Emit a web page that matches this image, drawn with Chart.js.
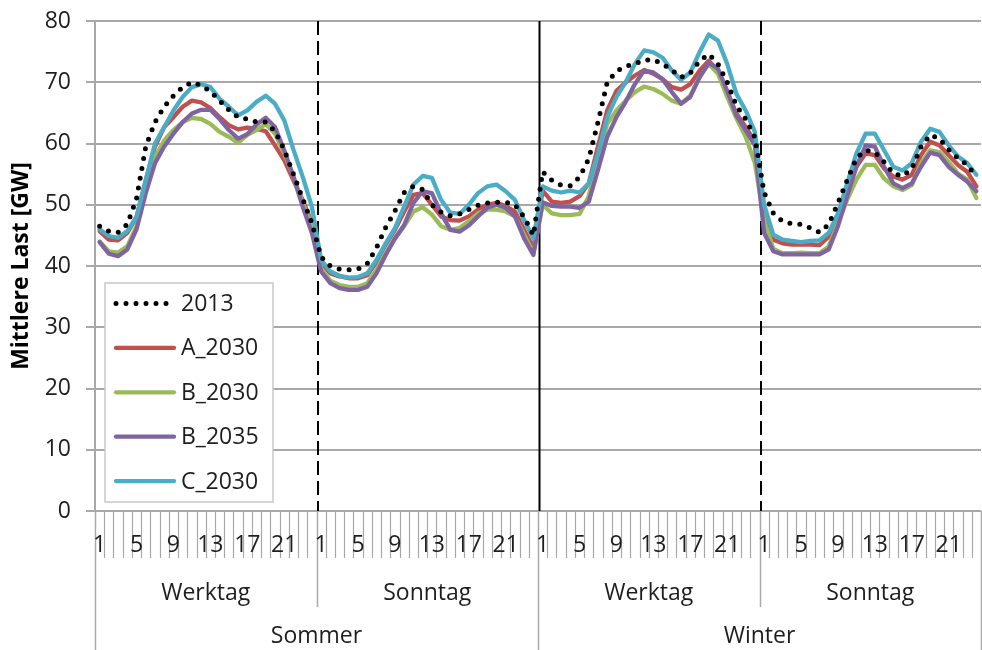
<!DOCTYPE html>
<html lang="de">
<head>
<meta charset="utf-8">
<title>Mittlere Last</title>
<script src="https://cdn.jsdelivr.net/npm/chart.js@4.4.1/dist/chart.umd.min.js"></script>
<style>
  html, body { margin: 0; padding: 0; background: #fff; }
  #wrap { width: 982px; height: 650px; }
</style>
</head>
<body>
<div id="wrap"><canvas id="lastChart" width="982" height="650"></canvas></div>
<script>
// Kategorien
const hours = [1, 2, 3, 4, 5, 6, 7, 8, 9, 10, 11, 12, 13, 14, 15, 16, 17, 18, 19, 20, 21, 22, 23, 24];
const shownHours = [1, 5, 9, 13, 17, 21];
const dayTypes = ['Werktag', 'Sonntag'];
const seasons = ['Sommer', 'Winter'];
const yTicks = [0, 10, 20, 30, 40, 50, 60, 70, 80];

// Werte [GW]: Sommer Werktag | Sommer Sonntag | Winter Werktag | Winter Sonntag
const s2013 = [
  46.5, 45.7, 45.5, 46.8, 51, 59.5, 63.5, 66, 67.8, 69.2, 70, 69.5, 68.5, 67, 65.5, 64.3, 64, 63.5, 63.5, 62, 59, 55, 51, 47,
  41.5, 40, 39.5, 39.4, 39.5, 40.4, 43, 46.3, 49, 52, 53, 52.5, 50, 48.8, 48.2, 48.5, 49.2, 49.9, 50.3, 50.4, 50.4, 50, 48, 45,
  55.4, 54, 53.2, 53.1, 54.5, 57.5, 63.5, 70, 71.8, 72.6, 73, 73.6, 73.7, 73, 72, 70.8, 71.5, 73.5, 74.6, 73, 70, 66.2, 64, 61,
  52, 48.6, 47.3, 46.9, 46.8, 46.2, 45.5, 46.8, 50.3, 54, 57.6, 58.9, 58.6, 57, 55.1, 54.7, 55.9, 59.5, 61.4, 60.8, 59, 57.6, 56.5, 54.6
];
const a2030 = [
  45.7, 44.3, 44.2, 45.4, 48, 54, 59.5, 62.7, 64.3, 66, 67, 66.7, 65.8, 64.3, 63, 62.3, 62.6, 62.4, 62, 59.7, 57.3, 54, 50.8, 47,
  40.5, 38.8, 38.3, 38, 38, 38.5, 40.7, 43.5, 45.9, 48.9, 51.6, 51.9, 50, 48.1, 47.5, 47.4, 48.1, 49.2, 50, 50.3, 49.8, 48.9, 45.9, 42.9,
  52.3, 50.5, 50.3, 50.5, 51.4, 53.5, 59.5, 65.4, 68.6, 70, 71.1, 72, 71.4, 70.5, 69.2, 68.8, 69.7, 71.9, 73.5, 71.9, 68.4, 64.9, 62.7, 60.3,
  49, 44.3, 43.7, 43.5, 43.5, 43.5, 43.4, 44.8, 48.4, 52.7, 56.2, 58.4, 58.1, 55.9, 54.6, 54.1, 54.9, 58.1, 60.3, 59.7, 58.1, 56.5, 55.4, 53
];
const b2030 = [
  44, 42.4, 42.2, 43.2, 46.5, 52.4, 57.8, 60.5, 62.2, 63.5, 64.2, 64, 63.2, 61.9, 61.1, 60.1, 61.4, 62.2, 63.2, 61.6, 58.4, 54.6, 50.3, 46.5,
  39.6, 37.6, 36.9, 36.6, 36.6, 37.2, 39.4, 42.1, 44.5, 46.5, 48.9, 49.6, 48.4, 46.5, 45.9, 46.2, 47.3, 48.6, 49.2, 49.2, 48.9, 48.1, 45.1, 42.1,
  50, 48.6, 48.3, 48.3, 48.5, 51.4, 57.8, 63.2, 65.4, 67, 68.4, 69.3, 68.9, 68.1, 67, 66.5, 67.8, 70.8, 73, 71.4, 67.6, 64.1, 61.1, 56.8,
  47.5, 42.8, 42.1, 42.1, 42.2, 42.1, 42.1, 43.2, 47, 50.8, 54.1, 56.5, 56.5, 54.3, 53, 52.4, 53.2, 56.8, 58.9, 58.6, 57, 55.1, 54.1, 51.1
];
const b2035 = [
  43.9, 42, 41.6, 42.7, 46, 51.9, 56.8, 59.5, 61.6, 63.5, 64.9, 65.5, 65.5, 64, 62.2, 60.8, 61.5, 63.1, 64.2, 62.7, 58.9, 54.6, 49.7, 45.4,
  39.1, 37.2, 36.4, 36.1, 36.1, 36.6, 38.8, 41.8, 44.5, 46.7, 50.3, 52.2, 51.9, 48.6, 45.9, 45.6, 46.6, 48.1, 49.5, 50, 49.5, 48.1, 44.5, 41.8,
  50.4, 49.8, 49.7, 49.7, 49.5, 50.5, 55.7, 61.1, 64.3, 66.8, 69.7, 71.9, 71.6, 70.5, 68.4, 66.5, 67.6, 70.8, 73.2, 72.2, 68.6, 64.6, 62.2, 59.7,
  45.4, 42.4, 41.9, 41.9, 41.9, 41.9, 41.9, 42.7, 46.5, 51.4, 56.2, 59.7, 59.5, 56.2, 53.5, 52.7, 53.5, 56.2, 58.5, 58.1, 56.2, 54.9, 53.8, 52.2
];
const c2030 = [
  46, 44.9, 44.6, 45.7, 48, 54, 60, 62.7, 65.4, 67.6, 69.2, 69.7, 69.2, 67.3, 66, 64.6, 65.4, 66.8, 67.8, 66.5, 63.8, 59, 54.6, 49.7,
  41, 39.1, 38.4, 38.1, 38.2, 38.8, 41, 43.7, 46.2, 49.7, 53.3, 54.7, 54.4, 50.8, 48.7, 48.5, 50, 51.9, 53, 53.3, 52.2, 50.8, 47.5, 44.5,
  53, 52.3, 52, 52.3, 52, 53.5, 58.4, 64.3, 67.6, 70, 73, 75.2, 74.9, 74, 71.9, 70.4, 71.6, 74.9, 77.8, 76.8, 73, 68.1, 65.4, 61.9,
  50, 45.1, 44.3, 44.1, 43.9, 44.1, 44.2, 45.4, 48.6, 53.5, 58.4, 61.6, 61.6, 58.9, 56.2, 55.6, 56.8, 60.3, 62.4, 61.9, 59.7, 57.9, 56.8, 54.9
];

const FONT = '"Open Sans", "Noto Sans", sans-serif';
const TEXT = '#1e1e1e';
const GRID = '#a8a8a8';

const labels = seasons.flatMap(s => dayTypes.flatMap(d => hours.map(h => s + ' ' + d + ' ' + h)));

// x-Achse mit drei Ebenen, Trennlinien und Legende selbst zeichnen
const levelsPlugin = {
  id: 'levels',
  beforeDatasetsDraw(chart) {
    const { ctx, chartArea: a, scales: { x } } = chart;
    const w = x.getPixelForValue(1) - x.getPixelForValue(0);
    ctx.save();
    ctx.strokeStyle = '#000';
    ctx.lineWidth = 2;
    [24, 48, 72].forEach(i => {
      const px = x.getPixelForValue(i) - w / 2 + 1.5;
      ctx.setLineDash(i === 48 ? [] : [14, 6]);
      ctx.beginPath();
      ctx.moveTo(px, a.top);
      ctx.lineTo(px, a.bottom);
      ctx.stroke();
    });
    ctx.restore();
  },
  afterDraw(chart) {
    const { ctx, chartArea: a, scales: { x } } = chart;
    const n = labels.length;
    const w = x.getPixelForValue(1) - x.getPixelForValue(0);
    const edge = i => x.getPixelForValue(i) - w / 2;
    const H = chart.height;
    ctx.save();

    // Teilstriche und Trennlinien
    ctx.strokeStyle = GRID;
    for (let i = 0; i <= n; i++) {
      let bottom = a.bottom + 47;
      if (i % 24 === 0) bottom = a.bottom + 96;
      if (i % 48 === 0) bottom = H;
      const px = Math.round(edge(i)) + 0.5;
      ctx.lineWidth = (i % 24 === 0) ? 1.5 : 1.2;
      ctx.beginPath();
      ctx.moveTo(px, a.bottom);
      ctx.lineTo(px, bottom);
      ctx.stroke();
    }

    ctx.fillStyle = TEXT;
    ctx.textAlign = 'center';
    ctx.textBaseline = 'alphabetic';
    ctx.font = '23px ' + FONT;
    for (let i = 0; i < n; i++) {
      const h = hours[i % 24];
      if (shownHours.includes(h)) ctx.fillText(String(h), x.getPixelForValue(i), a.bottom + 41);
    }
    seasons.forEach((s, si) => {
      dayTypes.forEach((d, di) => {
        const i0 = si * 48 + di * 24;
        ctx.fillText(d, (edge(i0) + edge(i0 + 24)) / 2, a.bottom + 88.5);
      });
      ctx.fillText(s, (edge(si * 48) + edge(si * 48 + 48)) / 2, a.bottom + 132);
    });

    // Legende
    const bx = a.left + 10, by = a.top + 262, bw = 168, bh = 219;
    ctx.fillStyle = '#fff';
    ctx.fillRect(bx, by, bw, bh);
    ctx.strokeStyle = '#c8c8c8';
    ctx.lineWidth = 1.5;
    ctx.strokeRect(bx, by, bw, bh);
    chart.data.datasets.forEach((ds, k) => {
      const cy = by + 20.5 + k * 44.4;
      ctx.strokeStyle = ds.borderColor;
      ctx.lineWidth = ds.borderWidth;
      ctx.lineCap = 'round';
      ctx.setLineDash(ds.borderDash || []);
      ctx.beginPath();
      ctx.moveTo(bx + 11, cy);
      ctx.lineTo(bx + 69, cy);
      ctx.stroke();
      ctx.setLineDash([]);
      ctx.fillStyle = TEXT;
      ctx.textAlign = 'left';
      ctx.textBaseline = 'middle';
      ctx.fillText(ds.label, bx + 76, cy + 1);
    });
    ctx.restore();
  }
};

const lineStyle = (label, data, color, order) => ({
  label, data, order,
  borderColor: color,
  backgroundColor: color,
  borderWidth: 4.3,
  pointRadius: 0,
  tension: 0,
  fill: false,
  borderJoinStyle: 'round',
  borderCapStyle: 'round'
});

new Chart(document.getElementById('lastChart'), {
  type: 'line',
  data: {
    labels,
    datasets: [
      Object.assign(lineStyle('2013', s2013, '#000000', 0), { borderWidth: 5, borderDash: [0, 10] }),
      lineStyle('A_2030', a2030, '#c0504d', 4),
      lineStyle('B_2030', b2030, '#9bbb59', 3),
      lineStyle('B_2035', b2035, '#8064a2', 2),
      lineStyle('C_2030', c2030, '#4bacc6', 1)
    ]
  },
  options: {
    responsive: false,
    animation: false,
    layout: { padding: { top: 21, right: 1, bottom: 139, left: 0 } },
    plugins: {
      legend: { display: false },
      tooltip: { enabled: false }
    },
    scales: {
      x: { type: 'category', offset: true, display: false },
      y: {
        min: 0,
        max: 80,
        afterBuildTicks: s => { s.ticks = yTicks.map(v => ({ value: v })); },
        afterFit: s => { s.width = 95; s.paddingTop = 0; s.paddingBottom = 0; },
        ticks: { padding: 15, color: TEXT, font: { family: FONT, size: 23 } },
        grid: { color: GRID, lineWidth: 2, tickLength: 9 },
        border: { color: GRID, width: 2 },
        title: {
          display: true,
          text: 'Mittlere Last [GW]',
          color: '#000',
          font: { family: FONT, size: 23, weight: 'bold' },
          padding: { top: 8, bottom: 0 }
        }
      }
    }
  },
  plugins: [levelsPlugin]
});
</script>
</body>
</html>
